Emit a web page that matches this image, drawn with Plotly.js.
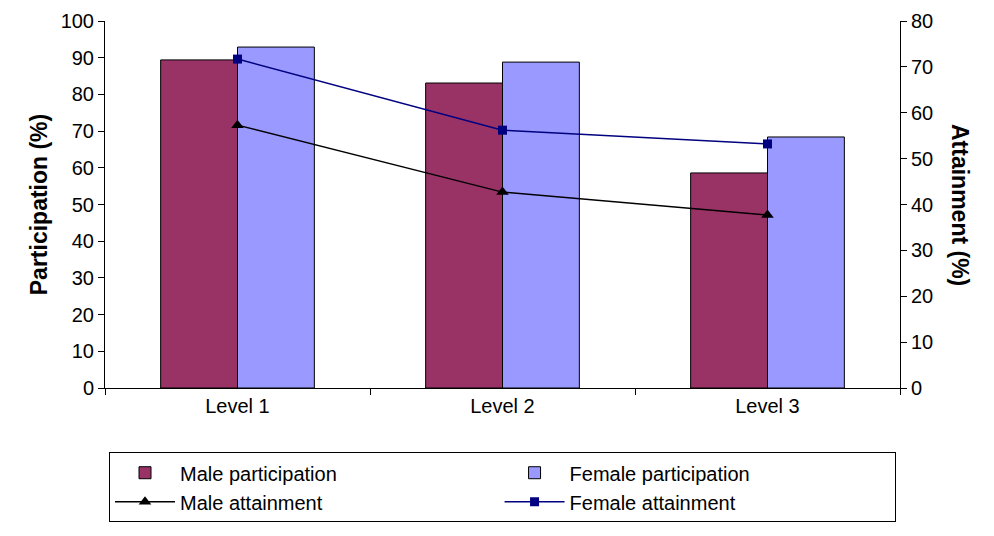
<!DOCTYPE html>
<html>
<head>
<meta charset="utf-8">
<script src="https://cdn.plot.ly/plotly-3.0.1.min.js"></script>
<style>body{margin:0;background:#fff}</style>
</head>
<body>
<div id="chart" style="width:994px;height:536px"></div>
<script>
// values
var levels = ['Level 1', 'Level 2', 'Level 3'];
var maleParticipation = [89.4, 83.1, 58.6];
var femaleParticipation = [92.9, 88.8, 68.4];
var maleAttainment = [57.3, 42.7, 37.7];
var femaleAttainment = [71.7, 56.2, 53.2];

var FONT = 'Liberation Sans, Arial, sans-serif';

var data = [
    {x: levels, y: maleParticipation, type: 'bar', name: 'Male participation',
     marker: {color: '#993366', line: {color: '#000', width: 1}}},
    {x: levels, y: femaleParticipation, type: 'bar', name: 'Female participation',
     marker: {color: '#9999ff', line: {color: '#000', width: 1}}},
    {x: levels, y: maleAttainment, type: 'scatter', mode: 'lines+markers', yaxis: 'y2',
     name: 'Male attainment', line: {color: '#000', width: 1.5},
     marker: {symbol: 'triangle-up', size: 11, color: '#000'}},
    {x: levels, y: femaleAttainment, type: 'scatter', mode: 'lines+markers', yaxis: 'y2',
     name: 'Female attainment', line: {color: '#000080', width: 1.5},
     marker: {symbol: 'square', size: 9, color: '#000080'}}
];

var layout = {
    width: 994, height: 536,
    margin: {l: 105, r: 94, t: 21, b: 148, autoexpand: false},
    paper_bgcolor: '#fff', plot_bgcolor: '#fff',
    font: {family: FONT, size: 20, color: '#000'},
    barmode: 'group', bargap: 0.42, bargroupgap: 0,
    xaxis: {showline: true, linecolor: '#000', ticks: 'outside', tickson: 'boundaries',
            ticklen: 6, tickcolor: '#000', tickfont: {size: 20}, automargin: false},
    yaxis: {range: [0, 100], dtick: 10, showgrid: false, showline: true, linecolor: '#000',
            ticks: 'outside', ticklen: 6, tickcolor: '#000', zeroline: false, automargin: false,
            title: {text: '<b>Participation (%)</b>', font: {size: 23}, standoff: 6}},
    yaxis2: {range: [0, 80], dtick: 10, overlaying: 'y', side: 'right', showgrid: false,
             showline: true, linecolor: '#000', ticks: 'outside', ticklen: 6, tickcolor: '#000',
             zeroline: false, automargin: false},
    annotations: [{text: '<b>Attainment (%)</b>', textangle: 90, xref: 'paper', yref: 'paper',
                   x: 1.095, y: 0.5, showarrow: false, font: {size: 23}}],
    showlegend: true,
    legend: {orientation: 'h', x: 0.5, xanchor: 'center', y: -0.175, yanchor: 'top',
             bordercolor: '#000', borderwidth: 1, entrywidthmode: 'fraction', entrywidth: 0.49,
             font: {size: 20}, traceorder: 'normal', itemwidth: 60, tracegroupgap: 0}
};

Plotly.newPlot('chart', data, layout, {displayModeBar: false});
</script>
</body>
</html>
